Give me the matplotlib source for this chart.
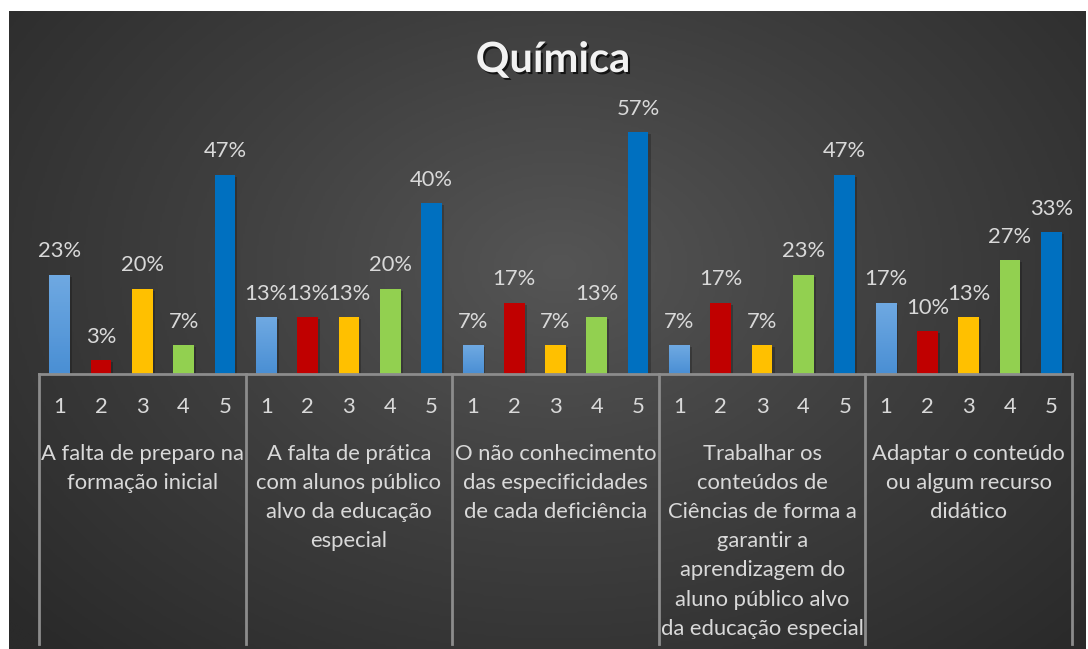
"""Química: percentage of answers 1-5 for each difficulty, grouped bar chart."""

import matplotlib

matplotlib.use("Agg")
import matplotlib.patheffects as pe
import matplotlib.pyplot as plt
import numpy as np
from matplotlib.colors import LinearSegmentedColormap
from matplotlib.transforms import blended_transform_factory

TITLE = "Química"
GROUPS = [
    "A falta de preparo na\nformação inicial",
    "A falta de prática\ncom alunos público\nalvo da educação\nespecial",
    "O não conhecimento\ndas especificidades\nde cada deficiência",
    "Trabalhar os\nconteúdos de\nCiências de forma a\ngarantir a\naprendizagem do\naluno público alvo\nda educação especial",
    "Adaptar o conteúdo\nou algum recurso\ndidático",
]
SCALE = ["1", "2", "3", "4", "5"]
# percent of answers per group, in scale order 1..5
PREPARO = [23.3, 3.3, 20.0, 6.7, 46.7]
PRATICA = [13.3, 13.3, 13.3, 20.0, 40.0]
CONHECIMENTO = [6.7, 16.7, 6.7, 13.3, 56.7]
TRABALHAR = [6.7, 16.7, 6.7, 23.3, 46.7]
ADAPTAR = [16.7, 10.0, 13.3, 26.7, 33.3]
SCALE_COLORS = ["#5b9bd5", "#c00000", "#ffc000", "#92d050", "#0070c0"]

W, H = 1088, 649
TEXT = "#d9d9d9"
LINE = "#8c8c8c"
FONT = ["Lato", "DejaVu Sans"]
FS = 15.8

plt.rcParams["font.family"] = FONT

fig = plt.figure(figsize=(W / 100, H / 100), dpi=100)
fig.patch.set_facecolor("white")

# dark radial background
bg = fig.add_axes([9 / W, 0, (1086 - 9) / W, (H - 11) / H])
bg.set_axis_off()
yy, xx = np.mgrid[0:300, 0:500]
r = np.sqrt(((xx - 255) / 340.0) ** 2 + ((yy - 120) / 250.0) ** 2)
shade = np.clip(r, 0, 1)
bg_cmap = LinearSegmentedColormap.from_list("bg", ["#555555", "#3e3e3e", "#2a2a2a"])
bg.imshow(shade, cmap=bg_cmap, aspect="auto", interpolation="bilinear")

x0, x1, base, top = 39, 1072, 374, 118
ax = fig.add_axes([x0 / W, 1 - base / H, (x1 - x0) / W, (base - top) / H])
ax.set_facecolor("none")
for s in ax.spines.values():
    s.set_visible(False)
ax.set_xlim(-0.5, 24.5)
ax.set_ylim(0, 60)
ax.set_yticks([])

series = [PREPARO, PRATICA, CONHECIMENTO, TRABALHAR, ADAPTAR]
xs = np.arange(len(GROUPS) * len(SCALE))
vals = np.concatenate(series)
colors = SCALE_COLORS * len(GROUPS)

shadow = [pe.SimplePatchShadow(offset=(1.5, -1.5), shadow_rgbFace="black", alpha=0.22), pe.Normal()]
bars = ax.bar(xs, vals, width=0.5, color=colors, zorder=3, path_effects=shadow)

# light blue bars carry a soft vertical gradient
grad = LinearSegmentedColormap.from_list("lb", ["#4a8fd4", "#6fa9e2"])
for b, c in zip(bars, colors):
    if c == SCALE_COLORS[0]:
        im = ax.imshow(
            np.linspace(0, 1, 50).reshape(-1, 1),
            cmap=grad,
            origin="lower",
            aspect="auto",
            extent=(b.get_x(), b.get_x() + b.get_width(), 0, b.get_height()),
            zorder=4,
        )
        im.set_clip_path(b)

for x, v in zip(xs, vals):
    ax.annotate(
        f"{v:.0f}%",
        (x, v),
        xytext=(0, 12.5),
        textcoords="offset points",
        ha="center",
        va="baseline",
        color=TEXT,
        fontsize=FS,
    )

ax.set_xticks(xs)
ax.set_xticklabels(SCALE * len(GROUPS), color=TEXT, fontsize=FS)
ax.tick_params(axis="x", length=0, pad=16.5)

trans = blended_transform_factory(ax.transData, ax.transAxes)
axis_h = base - top
ax.plot([-0.5, 24.5], [0, 0], transform=trans, color=LINE, lw=2, clip_on=False, zorder=5)
bottom = -(644 - base) / axis_h
for i in range(len(GROUPS) + 1):
    xb = i * len(SCALE) - 0.5
    ax.plot([xb, xb], [0, bottom], transform=trans, color=LINE, lw=2, clip_on=False)

for i, label in enumerate(GROUPS):
    ax.text(
        i * len(SCALE) + 2,
        -(444 - base) / axis_h,
        label,
        transform=trans,
        ha="center",
        va="top",
        color=TEXT,
        fontsize=FS,
        linespacing=1.57,
    )

fig.text(
    553 / W,
    1 - 60 / H,
    TITLE,
    ha="center",
    va="center",
    color="#f2f2f2",
    fontsize=30,
    fontweight="bold",
    path_effects=[pe.SimplePatchShadow(offset=(1.5, -1.5), shadow_rgbFace="black", alpha=0.7), pe.Normal()],
)

fig.savefig("out.png", dpi=100)
